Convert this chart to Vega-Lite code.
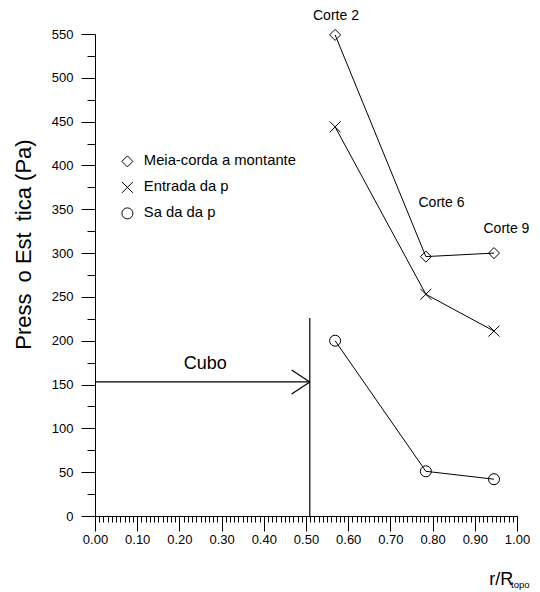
{
  "$schema": "https://vega.github.io/schema/vega-lite/v6.json",
  "width": 422,
  "height": 482,
  "autosize": {"type": "none"},
  "padding": {"left": 95, "top": 34, "right": 23, "bottom": 76},
  "config": {
    "font": "Liberation Sans",
    "view": {"stroke": null},
    "axis": {"grid": false, "domainColor": "black", "tickColor": "black", "labelColor": "black", "titleColor": "black", "labelFont": "Liberation Sans", "titleFont": "Liberation Sans", "domainWidth": 1, "tickWidth": 1}
  },
  "datasets": {
    "series": [
      {"serie": "Meia-corda a montante", "r": 0.569, "p": 549},
      {"serie": "Meia-corda a montante", "r": 0.784, "p": 296},
      {"serie": "Meia-corda a montante", "r": 0.9455, "p": 300},
      {"serie": "Entrada da p", "r": 0.569, "p": 444},
      {"serie": "Entrada da p", "r": 0.784, "p": 253},
      {"serie": "Entrada da p", "r": 0.9455, "p": 211},
      {"serie": "Sa da da p", "r": 0.569, "p": 200},
      {"serie": "Sa da da p", "r": 0.784, "p": 51},
      {"serie": "Sa da da p", "r": 0.9455, "p": 42}
    ],
    "segments": [
      {"x1": 0, "y1": 153, "x2": 0.509, "y2": 153},
      {"x1": 0.466, "y1": 166.6, "x2": 0.509, "y2": 153},
      {"x1": 0.466, "y1": 139.2, "x2": 0.509, "y2": 153},
      {"x1": 0.509, "y1": 0, "x2": 0.509, "y2": 226}
    ],
    "cortes": [
      {"label": "Corte 2", "x": 0.571, "y": 566},
      {"label": "Corte 6", "x": 0.821, "y": 353},
      {"label": "Corte 9", "x": 0.975, "y": 323}
    ]
  },
  "resolve": {"axis": {"x": "independent", "y": "independent"}},
  "layer": [
    {
      "data": {"name": "series"},
      "mark": {"type": "line", "color": "black", "strokeWidth": 1},
      "encoding": {
        "x": {"field": "r", "type": "quantitative", "scale": {"domain": [0, 1], "nice": false, "zero": false},
          "axis": {"orient": "bottom", "values": [0, 0.1, 0.2, 0.3, 0.4, 0.5, 0.6, 0.7, 0.8, 0.9, 1.0], "format": ".2f", "tickSize": 15, "labelPadding": 2, "labelFontSize": 13, "title": null, "labelFlush": false}},
        "y": {"field": "p", "type": "quantitative", "scale": {"domain": [0, 550], "nice": false, "zero": false},
          "axis": {"orient": "left", "values": [0, 50, 100, 150, 200, 250, 300, 350, 400, 450, 500, 550], "tickSize": 14, "labelPadding": 8, "labelFontSize": 13, "labelFlush": false,
            "title": "Press\u2002o Est\u2002tica (Pa)", "titleFontSize": 22, "titleFontWeight": "normal", "titleAngle": -90, "titleAlign": "center", "titleBaseline": "middle", "titleX": -72, "titleY": 210}},
        "detail": {"field": "serie"}
      }
    },
    {
      "data": {"name": "series"},
      "mark": {"type": "point", "filled": false, "color": "black", "strokeWidth": 1, "size": 121, "opacity": 1},
      "encoding": {
        "x": {"field": "r", "type": "quantitative", "scale": {"domain": [0, 1], "nice": false, "zero": false},
          "axis": {"orient": "bottom", "values": [0,0.01,0.02,0.03,0.04,0.05,0.06,0.07,0.08,0.09,0.1,0.11,0.12,0.13,0.14,0.15,0.16,0.17,0.18,0.19,0.2,0.21,0.22,0.23,0.24,0.25,0.26,0.27,0.28,0.29,0.3,0.31,0.32,0.33,0.34,0.35,0.36,0.37,0.38,0.39,0.4,0.41,0.42,0.43,0.44,0.45,0.46,0.47,0.48,0.49,0.5,0.51,0.52,0.53,0.54,0.55,0.56,0.57,0.58,0.59,0.6,0.61,0.62,0.63,0.64,0.65,0.66,0.67,0.68,0.69,0.7,0.71,0.72,0.73,0.74,0.75,0.76,0.77,0.78,0.79,0.8,0.81,0.82,0.83,0.84,0.85,0.86,0.87,0.88,0.89,0.9,0.91,0.92,0.93,0.94,0.95,0.96,0.97,0.98,0.99,1.0], "tickSize": 6, "labels": false, "domain": false, "title": null}},
        "y": {"field": "p", "type": "quantitative", "scale": {"domain": [0, 550], "nice": false, "zero": false},
          "axis": {"orient": "left", "values": [25, 75, 125, 175, 225, 275, 325, 375, 425, 475, 525], "tickSize": 8, "labels": false, "domain": false, "title": null}},
        "shape": {"field": "serie", "type": "nominal",
          "scale": {"domain": ["Meia-corda a montante", "Entrada da p", "Sa da da p"], "range": ["diamond", "M-1,-1L1,1M-1,1L1,-1", "circle"]},
          "legend": {"orient": "none", "legendX": 25, "legendY": 120, "title": null, "padding": 0, "labelFontSize": 14.8, "labelColor": "black", "labelFont": "Liberation Sans", "symbolStrokeColor": "black", "symbolFillColor": "transparent", "symbolStrokeWidth": 1, "symbolSize": 121, "rowPadding": 10, "labelOffset": 9, "labelLimit": 300}}
      }
    },
    {
      "data": {"name": "segments"},
      "mark": {"type": "rule", "color": "black", "strokeWidth": 1.2},
      "encoding": {
        "x": {"field": "x1", "type": "quantitative", "scale": {"domain": [0, 1], "nice": false, "zero": false}, "axis": null},
        "x2": {"field": "x2"},
        "y": {"field": "y1", "type": "quantitative", "scale": {"domain": [0, 550], "nice": false, "zero": false}, "axis": null},
        "y2": {"field": "y2"}
      }
    },
    {
      "data": {"name": "cortes"},
      "mark": {"type": "text", "fontSize": 14, "align": "center", "baseline": "alphabetic", "color": "black"},
      "encoding": {
        "x": {"field": "x", "type": "quantitative", "scale": {"domain": [0, 1], "nice": false, "zero": false}, "axis": null},
        "y": {"field": "y", "type": "quantitative", "scale": {"domain": [0, 550], "nice": false, "zero": false}, "axis": null},
        "text": {"field": "label"}
      }
    },
    {
      "data": {"values": [{"label": "Cubo", "x": 0.261, "y": 168}]},
      "mark": {"type": "text", "fontSize": 18, "align": "center", "baseline": "alphabetic", "color": "black"},
      "encoding": {
        "x": {"field": "x", "type": "quantitative", "scale": {"domain": [0, 1], "nice": false, "zero": false}, "axis": null},
        "y": {"field": "y", "type": "quantitative", "scale": {"domain": [0, 550], "nice": false, "zero": false}, "axis": null},
        "text": {"field": "label"}
      }
    },
    {
      "data": {"values": [{"label": "r/R", "x": 0.934, "y": -78.7}]},
      "mark": {"type": "text", "fontSize": 18, "align": "left", "baseline": "alphabetic", "color": "black"},
      "encoding": {
        "x": {"field": "x", "type": "quantitative", "scale": {"domain": [0, 1], "nice": false, "zero": false}, "axis": null},
        "y": {"field": "y", "type": "quantitative", "scale": {"domain": [0, 550], "nice": false, "zero": false}, "axis": null},
        "text": {"field": "label"}
      }
    },
    {
      "data": {"values": [{"label": "topo", "x": 0.986, "y": -82}]},
      "mark": {"type": "text", "fontSize": 9.5, "align": "left", "baseline": "alphabetic", "color": "black"},
      "encoding": {
        "x": {"field": "x", "type": "quantitative", "scale": {"domain": [0, 1], "nice": false, "zero": false}, "axis": null},
        "y": {"field": "y", "type": "quantitative", "scale": {"domain": [0, 550], "nice": false, "zero": false}, "axis": null},
        "text": {"field": "label"}
      }
    }
  ]
}
